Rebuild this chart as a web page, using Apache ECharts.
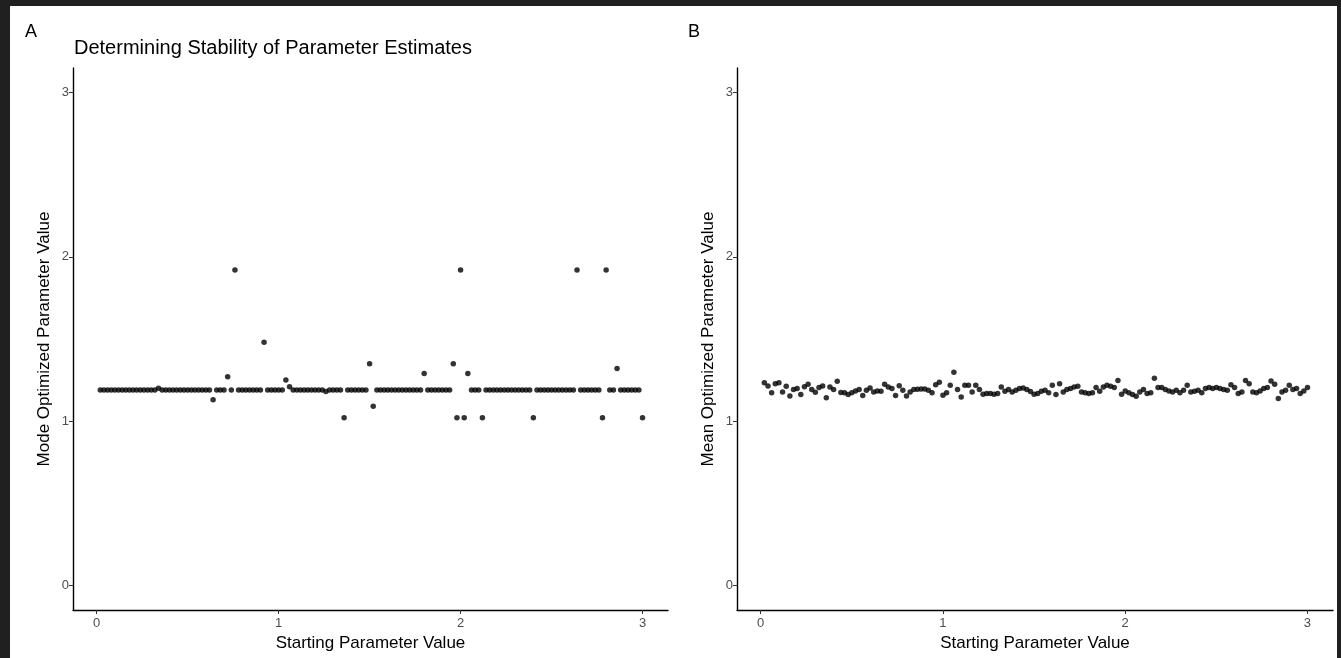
<!DOCTYPE html>
<html>
<head>
<meta charset="utf-8">
<script src="https://cdn.jsdelivr.net/npm/echarts@6/dist/echarts.min.js"></script>
<style>
  html, body { margin: 0; padding: 0; background: #202020; width: 1341px; height: 658px; overflow: hidden; }
  #chart { position: absolute; left: 10px; top: 6px; width: 1327px; height: 652px; background: #ffffff; }
</style>
</head>
<body>
<div id="chart"></div>
<script>
// Starting parameter values (x), step 0.02 from 0.02 to 3.00
const startValues = [
  0.02,0.04,0.06,0.08,0.10,0.12,0.14,0.16,0.18,0.20,
  0.22,0.24,0.26,0.28,0.30,0.32,0.34,0.36,0.38,0.40,
  0.42,0.44,0.46,0.48,0.50,0.52,0.54,0.56,0.58,0.60,
  0.62,0.64,0.66,0.68,0.70,0.72,0.74,0.76,0.78,0.80,
  0.82,0.84,0.86,0.88,0.90,0.92,0.94,0.96,0.98,1.00,
  1.02,1.04,1.06,1.08,1.10,1.12,1.14,1.16,1.18,1.20,
  1.22,1.24,1.26,1.28,1.30,1.32,1.34,1.36,1.38,1.40,
  1.42,1.44,1.46,1.48,1.50,1.52,1.54,1.56,1.58,1.60,
  1.62,1.64,1.66,1.68,1.70,1.72,1.74,1.76,1.78,1.80,
  1.82,1.84,1.86,1.88,1.90,1.92,1.94,1.96,1.98,2.00,
  2.02,2.04,2.06,2.08,2.10,2.12,2.14,2.16,2.18,2.20,
  2.22,2.24,2.26,2.28,2.30,2.32,2.34,2.36,2.38,2.40,
  2.42,2.44,2.46,2.48,2.50,2.52,2.54,2.56,2.58,2.60,
  2.62,2.64,2.66,2.68,2.70,2.72,2.74,2.76,2.78,2.80,
  2.82,2.84,2.86,2.88,2.90,2.92,2.94,2.96,2.98,3.00
];

// Panel A: mode optimized parameter value
const modeValues = [
  1.19,1.19,1.19,1.19,1.19,1.19,1.19,1.19,1.19,1.19,
  1.19,1.19,1.19,1.19,1.19,1.19,1.20,1.19,1.19,1.19,
  1.19,1.19,1.19,1.19,1.19,1.19,1.19,1.19,1.19,1.19,
  1.19,1.13,1.19,1.19,1.19,1.27,1.19,1.92,1.19,1.19,
  1.19,1.19,1.19,1.19,1.19,1.48,1.19,1.19,1.19,1.19,
  1.19,1.25,1.21,1.19,1.19,1.19,1.19,1.19,1.19,1.19,
  1.19,1.19,1.18,1.19,1.19,1.19,1.19,1.02,1.19,1.19,
  1.19,1.19,1.19,1.19,1.35,1.09,1.19,1.19,1.19,1.19,
  1.19,1.19,1.19,1.19,1.19,1.19,1.19,1.19,1.19,1.29,
  1.19,1.19,1.19,1.19,1.19,1.19,1.19,1.35,1.02,1.92,
  1.02,1.29,1.19,1.19,1.19,1.02,1.19,1.19,1.19,1.19,
  1.19,1.19,1.19,1.19,1.19,1.19,1.19,1.19,1.19,1.02,
  1.19,1.19,1.19,1.19,1.19,1.19,1.19,1.19,1.19,1.19,
  1.19,1.92,1.19,1.19,1.19,1.19,1.19,1.19,1.02,1.92,
  1.19,1.19,1.32,1.19,1.19,1.19,1.19,1.19,1.19,1.02
];

// Panel B: mean optimized parameter value
const meanValues = [
  1.234,1.214,1.172,1.228,1.234,1.178,1.212,1.153,1.192,1.198,
  1.162,1.210,1.224,1.192,1.176,1.204,1.214,1.143,1.208,1.192,
  1.242,1.174,1.172,1.162,1.172,1.184,1.192,1.156,1.188,1.202,
  1.178,1.184,1.182,1.224,1.208,1.198,1.156,1.216,1.188,1.153,
  1.178,1.192,1.194,1.196,1.196,1.188,1.172,1.222,1.236,1.158,
  1.172,1.218,1.297,1.192,1.147,1.218,1.218,1.178,1.218,1.192,
  1.164,1.168,1.168,1.164,1.168,1.208,1.182,1.192,1.178,1.188,
  1.198,1.202,1.192,1.180,1.164,1.168,1.182,1.188,1.172,1.218,
  1.162,1.228,1.178,1.192,1.198,1.208,1.212,1.178,1.172,1.168,
  1.172,1.204,1.182,1.208,1.218,1.212,1.204,1.248,1.164,1.184,
  1.172,1.162,1.152,1.178,1.192,1.168,1.172,1.261,1.204,1.204,
  1.192,1.184,1.178,1.188,1.172,1.188,1.218,1.178,1.182,1.188,
  1.172,1.198,1.204,1.198,1.204,1.198,1.192,1.188,1.222,1.204,
  1.168,1.178,1.248,1.228,1.178,1.172,1.184,1.198,1.204,1.244,
  1.224,1.138,1.178,1.188,1.218,1.192,1.198,1.168,1.184,1.204
];

const tickValues = [0, 1, 2, 3];
const titleText = 'Determining Stability of Parameter Estimates';
const xName = 'Starting Parameter Value';
const yNameA = 'Mode Optimized Parameter Value';
const yNameB = 'Mean Optimized Parameter Value';

const FONT = '"Liberation Sans", Arial, Helvetica, sans-serif';
const chart = echarts.init(document.getElementById('chart'), null, { renderer: 'canvas' });

function xAxisDef(idx) {
  return {
    gridIndex: idx, type: 'value', min: -0.13, max: 3.14,
    name: xName, nameLocation: 'middle', nameGap: 24,
    nameTextStyle: { fontFamily: FONT, fontSize: 17, color: '#000' },
    axisLine: { show: true, onZero: false, lineStyle: { color: '#000', width: 1.4 } },
    axisTick: { show: true, length: 4, customValues: tickValues, lineStyle: { color: '#333', width: 1 } },
    axisLabel: { customValues: tickValues, margin: 7, fontFamily: FONT, fontSize: 13, color: '#4d4d4d' },
    splitLine: { show: false }
  };
}
function yAxisDef(idx, name) {
  return {
    gridIndex: idx, type: 'value', min: -0.15, max: 3.15,
    name: name, nameLocation: 'middle', nameGap: 20, nameRotate: 90,
    nameTextStyle: { fontFamily: FONT, fontSize: 17, color: '#000' },
    axisLine: { show: true, onZero: false, lineStyle: { color: '#000', width: 1.4 } },
    axisTick: { show: true, length: 4, customValues: tickValues, lineStyle: { color: '#333', width: 1 } },
    axisLabel: { customValues: tickValues, margin: 4, fontFamily: FONT, fontSize: 13, color: '#4d4d4d' },
    splitLine: { show: false }
  };
}

chart.setOption({
  animation: false,
  backgroundColor: '#ffffff',
  title: [
    { text: 'A', left: 15, top: 17, padding: 0, textStyle: { fontFamily: FONT, fontSize: 18, fontWeight: 'normal', color: '#000' } },
    { text: titleText, left: 64, top: 32, padding: 0, textStyle: { fontFamily: FONT, fontSize: 20, fontWeight: 'normal', color: '#000' } },
    { text: 'B', left: 678, top: 17, padding: 0, textStyle: { fontFamily: FONT, fontSize: 18, fontWeight: 'normal', color: '#000' } }
  ],
  grid: [
    { left: 63, top: 62, width: 595, height: 542 },
    { left: 727, top: 62, width: 596, height: 542 }
  ],
  xAxis: [xAxisDef(0), xAxisDef(1)],
  yAxis: [yAxisDef(0, yNameA), yAxisDef(1, yNameB)],
  series: [
    {
      type: 'scatter', xAxisIndex: 0, yAxisIndex: 0, symbolSize: 5.5,
      itemStyle: { color: '#000' },
      data: startValues.map((x, i) => [x, modeValues[i]])
    },
    {
      type: 'scatter', xAxisIndex: 1, yAxisIndex: 1, symbolSize: 5.5,
      itemStyle: { color: '#000' },
      data: startValues.map((x, i) => [x, meanValues[i]])
    }
  ]
});
</script>
</body>
</html>
